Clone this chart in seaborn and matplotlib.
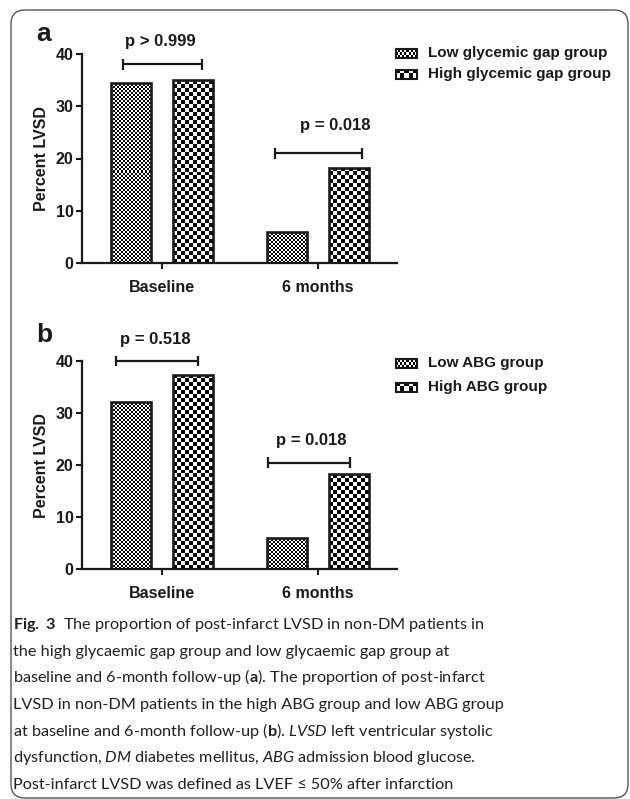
import numpy as np
import pandas as pd
import matplotlib
matplotlib.use("Agg")
import matplotlib.pyplot as plt
import seaborn as sns
from matplotlib.patches import FancyBboxPatch, Rectangle

# ---------------- data ----------------
timepoints = ["Baseline", "6 months"]

groups_a = ["Low glycemic gap group", "High glycemic gap group"]
lvsd_a_low = [34.5, 6.0]
lvsd_a_high = [35.0, 18.2]
pvals_a = ["p > 0.999", "p = 0.018"]

groups_b = ["Low ABG group", "High ABG group"]
lvsd_b_low = [32.2, 6.0]
lvsd_b_high = [37.4, 18.2]
pvals_b = ["p = 0.518", "p = 0.018"]

y_ticks = [0, 10, 20, 30, 40]

caption_lines = [
    r"$\mathbf{Fig.\ 3}$  The proportion of post-infarct LVSD in non-DM patients in",
    "the high glycaemic gap group and low glycaemic gap group at",
    r"baseline and 6-month follow-up ($\mathbf{a}$). The proportion of post-infarct",
    "LVSD in non-DM patients in the high ABG group and low ABG group",
    r"at baseline and 6-month follow-up ($\mathbf{b}$). $\mathit{LVSD}$ left ventricular systolic",
    r"dysfunction, $\mathit{DM}$ diabetes mellitus, $\mathit{ABG}$ admission blood glucose.",
    "Post-infarct LVSD was defined as LVEF \u2264 50% after infarction",
]

# ---------------- style ----------------
sns.set_style("ticks")
CHART_FONT = ["Liberation Sans", "DejaVu Sans"]
CAPTION_FONT = ["Lato", "DejaVu Sans"]
plt.rcParams["font.family"] = CHART_FONT
plt.rcParams["mathtext.fontset"] = "custom"
plt.rcParams["mathtext.rm"] = "Lato"
plt.rcParams["mathtext.bf"] = "Lato:bold"
plt.rcParams["mathtext.it"] = "Lato:italic"

INK = "#1a1a1a"
CAPTION_INK = "#231f20"
CELL = [2, 4]   # checker cell size (px) for low / high group fills

W, H = 630, 799
fig = plt.figure(figsize=(W / 100, H / 100), dpi=100)
fig.patch.set_facecolor("white")


def px_axes(left, top, right, bottom):
    return fig.add_axes([left / W, 1 - bottom / H, (right - left) / W, (bottom - top) / H])


def checker(ny, nx):
    return np.indices((ny, nx)).sum(axis=0) % 2


def draw_panel(ax, low, high, groups, pvals, brackets):
    df = pd.DataFrame({
        "time": timepoints * 2,
        "group": [groups[0]] * len(timepoints) + [groups[1]] * len(timepoints),
        "pct": low + high,
    })
    sns.barplot(data=df, x="time", y="pct", hue="group", order=timepoints,
                hue_order=groups, palette=["white", "white"], width=0.8, gap=0.36,
                edgecolor=INK, linewidth=1.9, errorbar=None, legend=False, ax=ax)
    xlim = (-0.513, 1.506)
    ax.set_xlim(*xlim)
    ax.set_ylim(0, 40)
    ax.set_yticks(y_ticks)
    ax.set_xlabel("")
    ax.set_ylabel("Percent LVSD", fontsize=11.5, fontweight="bold", color=INK, labelpad=5)
    ax.tick_params(axis="y", length=4, width=1.5, pad=2, labelsize=11.5, colors=INK)
    ax.tick_params(axis="x", length=4, width=1.5, pad=8, labelsize=11.5, colors=INK)
    for lab in ax.get_xticklabels() + ax.get_yticklabels():
        lab.set_fontweight("bold")
    sns.despine(ax=ax)
    for side in ("left", "bottom"):
        ax.spines[side].set_linewidth(1.6)
        ax.spines[side].set_color(INK)

    # checkerboard fills, clipped to each bar
    for container, cell in zip(ax.containers, CELL):
        for bar in container:
            x0, w, h = bar.get_x(), bar.get_width(), bar.get_height()
            p0 = ax.transData.transform((x0, 0))
            p1 = ax.transData.transform((x0 + w, h))
            nx = max(1, int(round((p1[0] - p0[0]) / cell)))
            ny = max(1, int(round((p1[1] - p0[1]) / cell)))
            im = ax.imshow(checker(ny, nx), cmap="gray", vmin=0, vmax=1,
                           extent=(x0, x0 + w, 0, h), origin="lower",
                           interpolation="nearest", aspect="auto", zorder=1.5)
            im.set_clip_path(bar)
            bar.set_facecolor("none")
            bar.set_zorder(2)
    ax.set_xlim(*xlim)
    ax.set_ylim(0, 40)

    # significance brackets
    for (bx0, bx1, by, tx, ty), label in zip(brackets, pvals):
        kw = dict(color=INK, lw=1.6, clip_on=False, solid_capstyle="butt")
        ax.plot([bx0, bx1], [by, by], **kw)
        ax.plot([bx0, bx0], [by - 1.05, by + 1.05], **kw)
        ax.plot([bx1, bx1], [by - 1.05, by + 1.05], **kw)
        ax.text(tx, ty, label, ha="center", va="center", fontsize=12,
                fontweight="bold", color=INK, clip_on=False)


ax_a = px_axes(82, 54, 397, 263)
draw_panel(ax_a, lvsd_a_low, lvsd_a_high, groups_a, pvals_a,
           [(-0.25, 0.256, 38.0, -0.013, 42.3), (0.724, 1.28, 21.0, 1.109, 26.4)])

ax_b = px_axes(82, 361, 397, 569)
draw_panel(ax_b, lvsd_b_low, lvsd_b_high, groups_b, pvals_b,
           [(-0.295, 0.231, 40.0, -0.04, 44.2), (0.68, 1.205, 20.4, 0.955, 24.8)])

# ---------------- overlay in pixel coordinates ----------------
ov = fig.add_axes([0, 0, 1, 1])
ov.set_xlim(0, W)
ov.set_ylim(H, 0)
ov.axis("off")
ov.patch.set_visible(False)

ov.add_patch(FancyBboxPatch((11, 10), 617, 788,
                            boxstyle="round,pad=0,rounding_size=14",
                            fill=False, ec="#555555", lw=1.0))

ov.text(36, 41, "a", fontsize=19, fontweight="bold", color=INK, va="baseline")
ov.text(36, 342, "b", fontsize=19, fontweight="bold", color=INK, va="baseline")


def legend(rows_y, labels):
    for y, lab, cell in zip(rows_y, labels, CELL):
        x0, x1, y0, y1 = 396, 417, y - 4.5, y + 4.5
        board = checker(int(round((y1 - y0) / cell)), int(round((x1 - x0) / cell)))
        ov.imshow(board, cmap="gray", vmin=0, vmax=1, extent=(x0, x1, y1, y0),
                  interpolation="nearest", aspect="auto", zorder=2)
        ov.add_patch(Rectangle((x0, y0), x1 - x0, y1 - y0, fill=False,
                               ec=INK, lw=1.5, zorder=3))
        ov.text(428, y, lab, fontsize=11, fontweight="bold", color=INK,
                va="center", ha="left")


legend([53, 74], groups_a)
legend([363, 387], groups_b)
ov.set_xlim(0, W)
ov.set_ylim(H, 0)

for i, line in enumerate(caption_lines):
    ov.text(13, 629 + 26.67 * i, line, fontsize=11.7, family=CAPTION_FONT,
            color=CAPTION_INK, va="baseline", ha="left")

fig.savefig("out.png", dpi=100, facecolor="white")
